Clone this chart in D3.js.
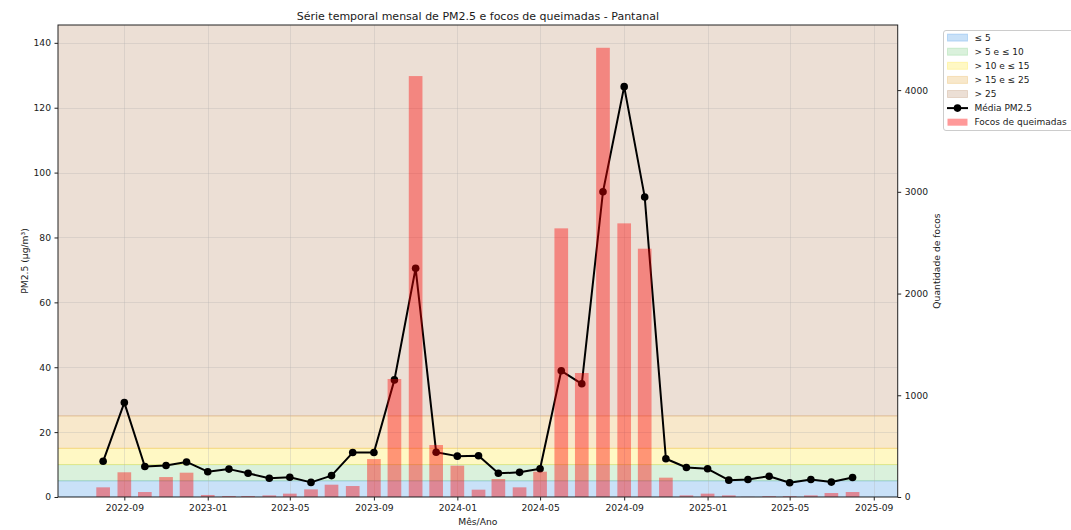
<!DOCTYPE html>
<html>
<head>
<meta charset="utf-8">
<script src="https://cdn.jsdelivr.net/npm/d3@7"></script>
<style>
  html, body { margin: 0; padding: 0; background: #fff; }
  svg { display: block; font-family: "DejaVu Sans", sans-serif; }
</style>
</head>
<body>
<svg id="chart" width="1071" height="530"></svg>
<script>
// ---------- DATA ----------
const months = [
  "2022-08","2022-09","2022-10","2022-11","2022-12",
  "2023-01","2023-02","2023-03","2023-04","2023-05","2023-06","2023-07","2023-08","2023-09","2023-10","2023-11","2023-12",
  "2024-01","2024-02","2024-03","2024-04","2024-05","2024-06","2024-07","2024-08","2024-09","2024-10","2024-11","2024-12",
  "2025-01","2025-02","2025-03","2025-04","2025-05","2025-06","2025-07","2025-08"
];
const pm25 = [
  11.0, 29.1, 9.4, 9.7, 10.8,
  7.8, 8.6, 7.3, 5.8, 6.1, 4.5, 6.6, 13.7, 13.7, 36.1, 70.5, 13.8,
  12.6, 12.7, 7.3, 7.6, 8.7, 38.9, 34.9, 94.1, 126.5, 92.5, 11.8, 9.1,
  8.7, 5.2, 5.4, 6.4, 4.4, 5.4, 4.6, 6.0
];
const focos = [
  95, 243, 49, 196, 239,
  20, 10, 10, 16, 33, 75, 121, 108, 373, 1160, 4138, 511,
  308, 72, 177, 95, 249, 2641, 1219, 4416, 2690, 2441, 190, 16,
  33, 16, 2, 8, 8, 16, 39, 49
];
const bandLimits = [[0, 5], [5, 10], [10, 15], [15, 25], [25, null]];
const bandLabels = ["≤ 5", "> 5 e ≤ 10", "> 10 e ≤ 15", "> 15 e ≤ 25", "> 25"];
const bandColors = ["#2787e3", "#6bc773", "#ffe313", "#e3a32f", "#b37f57"];
const leftTicks = [0, 20, 40, 60, 80, 100, 120, 140];
const rightTicks = [0, 1000, 2000, 3000, 4000];
const titleText = "Série temporal mensal de PM2.5 e focos de queimadas - Pantanal";
const xLabel = "Mês/Ano";
const yLabelLeft = "PM2.5 (µg/m³)";
const yLabelRight = "Quantidade de focos";
const lineLabel = "Média PM2.5";
const barLabel = "Focos de queimadas";

// ---------- LAYOUT ----------
const svg = d3.select("#chart");
const M = { left: 58, top: 25, right: 897.7, bottom: 497 };
const parse = d3.utcParse("%Y-%m");
const dates = months.map(parse);
const dayMs = 86400000;
const barDays = 20;

const x = d3.scaleUtc()
  .domain([new Date(Date.UTC(2022, 4, 27)), new Date(Date.UTC(2025, 9, 6))])
  .range([M.left, M.right]);
const yL = d3.scaleLinear().domain([0, 145.5]).range([M.bottom, M.top]);
const yR = d3.scaleLinear().domain([0, 4640]).range([M.bottom, M.top]);

const bandAlpha = 0.25;
const textColor = "#1a1a1a";

// clip
svg.append("defs").append("clipPath").attr("id", "clip")
  .append("rect").attr("x", M.left).attr("y", M.top)
  .attr("width", M.right - M.left).attr("height", M.bottom - M.top);

const plot = svg.append("g").attr("clip-path", "url(#clip)");

// bands
bandLimits.forEach((b, i) => {
  const top = b[1] === null ? yL.domain()[1] + 5 : b[1];
  plot.append("rect")
    .attr("x", M.left - 2).attr("width", M.right - M.left + 4)
    .attr("y", yL(top)).attr("height", yL(b[0]) - yL(top))
    .attr("fill", bandColors[i]).attr("fill-opacity", bandAlpha)
    .attr("stroke", bandColors[i]).attr("stroke-opacity", bandAlpha)
    .attr("stroke-width", 1);
});

// grid
const xTicks = d3.utcMonth.every(4).range(x.domain()[0], x.domain()[1]).filter(d => d >= x.domain()[0]);
plot.selectAll(".gx").data(xTicks).join("line")
  .attr("x1", d => Math.round(x(d)) + 0.5).attr("x2", d => Math.round(x(d)) + 0.5)
  .attr("y1", M.top).attr("y2", M.bottom)
  .attr("stroke", "#b0b0b0").attr("stroke-opacity", 0.3).attr("stroke-width", 1);
plot.selectAll(".gy").data(leftTicks).join("line")
  .attr("x1", M.left).attr("x2", M.right)
  .attr("y1", d => Math.round(yL(d)) + 0.5).attr("y2", d => Math.round(yL(d)) + 0.5)
  .attr("stroke", "#b0b0b0").attr("stroke-opacity", 0.3).attr("stroke-width", 1);

// line (PM2.5)
const line = d3.line().x((d, i) => x(dates[i])).y(d => yL(d));
plot.append("path").datum(pm25)
  .attr("d", line).attr("fill", "none")
  .attr("stroke", "#000").attr("stroke-width", 2).attr("stroke-linejoin", "round");
plot.selectAll(".pt").data(pm25).join("circle")
  .attr("cx", (d, i) => x(dates[i])).attr("cy", d => yL(d))
  .attr("r", 3.8).attr("fill", "#000");

// bars (focos) on twin axis, above line
plot.selectAll(".bar").data(focos).join("rect")
  .attr("x", (d, i) => x(new Date(+dates[i] - barDays / 2 * dayMs)))
  .attr("width", (d, i) => x(new Date(+dates[i] + barDays / 2 * dayMs)) - x(new Date(+dates[i] - barDays / 2 * dayMs)))
  .attr("y", d => yR(d)).attr("height", d => yR(0) - yR(d))
  .attr("fill", "#ff0000").attr("fill-opacity", 0.4);

// spines
svg.append("rect").attr("x", M.left).attr("y", M.top)
  .attr("width", M.right - M.left).attr("height", M.bottom - M.top)
  .attr("fill", "none").attr("stroke", "#222").attr("stroke-width", 1);

// axes
const fs = "9.2px";
const xAxis = svg.append("g").attr("transform", `translate(0,${M.bottom})`)
  .call(d3.axisBottom(x).tickValues(xTicks).tickFormat(d3.utcFormat("%Y-%m")).tickSize(3.5).tickPadding(3.5));
const yAxisL = svg.append("g").attr("transform", `translate(${M.left},0)`)
  .call(d3.axisLeft(yL).tickValues(leftTicks).tickSize(3.5).tickPadding(3.5));
const yAxisR = svg.append("g").attr("transform", `translate(${M.right},0)`)
  .call(d3.axisRight(yR).tickValues(rightTicks).tickFormat(d3.format("d")).tickSize(3.5).tickPadding(3.5));
[xAxis, yAxisL, yAxisR].forEach(g => {
  g.select(".domain").remove();
  g.selectAll("line").attr("stroke", "#222");
  g.selectAll("text").attr("fill", textColor).style("font-size", fs).style("font-family", "DejaVu Sans");
});

// labels
svg.append("text").attr("x", (M.left + M.right) / 2).attr("y", 20)
  .attr("text-anchor", "middle").attr("fill", textColor)
  .style("font-size", "11px").text(titleText);
svg.append("text").attr("x", (M.left + M.right) / 2).attr("y", 524.5)
  .attr("text-anchor", "middle").attr("fill", textColor)
  .style("font-size", "9.2px").text(xLabel);
svg.append("text").attr("transform", `translate(27.5,${(M.top + M.bottom) / 2}) rotate(-90)`)
  .attr("text-anchor", "middle").attr("fill", textColor)
  .style("font-size", "9.2px").text(yLabelLeft);
svg.append("text").attr("transform", `translate(940,${(M.top + M.bottom) / 2}) rotate(-90)`)
  .attr("text-anchor", "middle").attr("fill", textColor)
  .style("font-size", "9.2px").text(yLabelRight);

// legend
const lg = svg.append("g");
lg.append("rect").attr("x", 943.5).attr("y", 30.5).attr("width", 132).attr("height", 100)
  .attr("rx", 2.5).attr("fill", "#fff").attr("fill-opacity", 0.8)
  .attr("stroke", "#cccccc").attr("stroke-width", 1);
const rowY = i => 37.6 + i * 14.1;
bandLabels.forEach((lab, i) => {
  lg.append("rect").attr("x", 947.5).attr("y", rowY(i) - 3.5).attr("width", 20).attr("height", 7)
    .attr("fill", bandColors[i]).attr("fill-opacity", bandAlpha)
    .attr("stroke", bandColors[i]).attr("stroke-opacity", bandAlpha);
  lg.append("text").attr("x", 974.5).attr("y", rowY(i)).attr("dy", "0.35em")
    .attr("fill", textColor).style("font-size", "9px").text(lab);
});
lg.append("line").attr("x1", 947).attr("x2", 968).attr("y1", rowY(5)).attr("y2", rowY(5))
  .attr("stroke", "#000").attr("stroke-width", 2);
lg.append("circle").attr("cx", 957.5).attr("cy", rowY(5)).attr("r", 3.8).attr("fill", "#000");
lg.append("text").attr("x", 974.5).attr("y", rowY(5)).attr("dy", "0.35em")
  .attr("fill", textColor).style("font-size", "9px").text(lineLabel);
lg.append("rect").attr("x", 947.5).attr("y", rowY(6) - 3.5).attr("width", 20).attr("height", 7)
  .attr("fill", "#ff0000").attr("fill-opacity", 0.4);
lg.append("text").attr("x", 974.5).attr("y", rowY(6)).attr("dy", "0.35em")
  .attr("fill", textColor).style("font-size", "9px").text(barLabel);
</script>
</body>
</html>
